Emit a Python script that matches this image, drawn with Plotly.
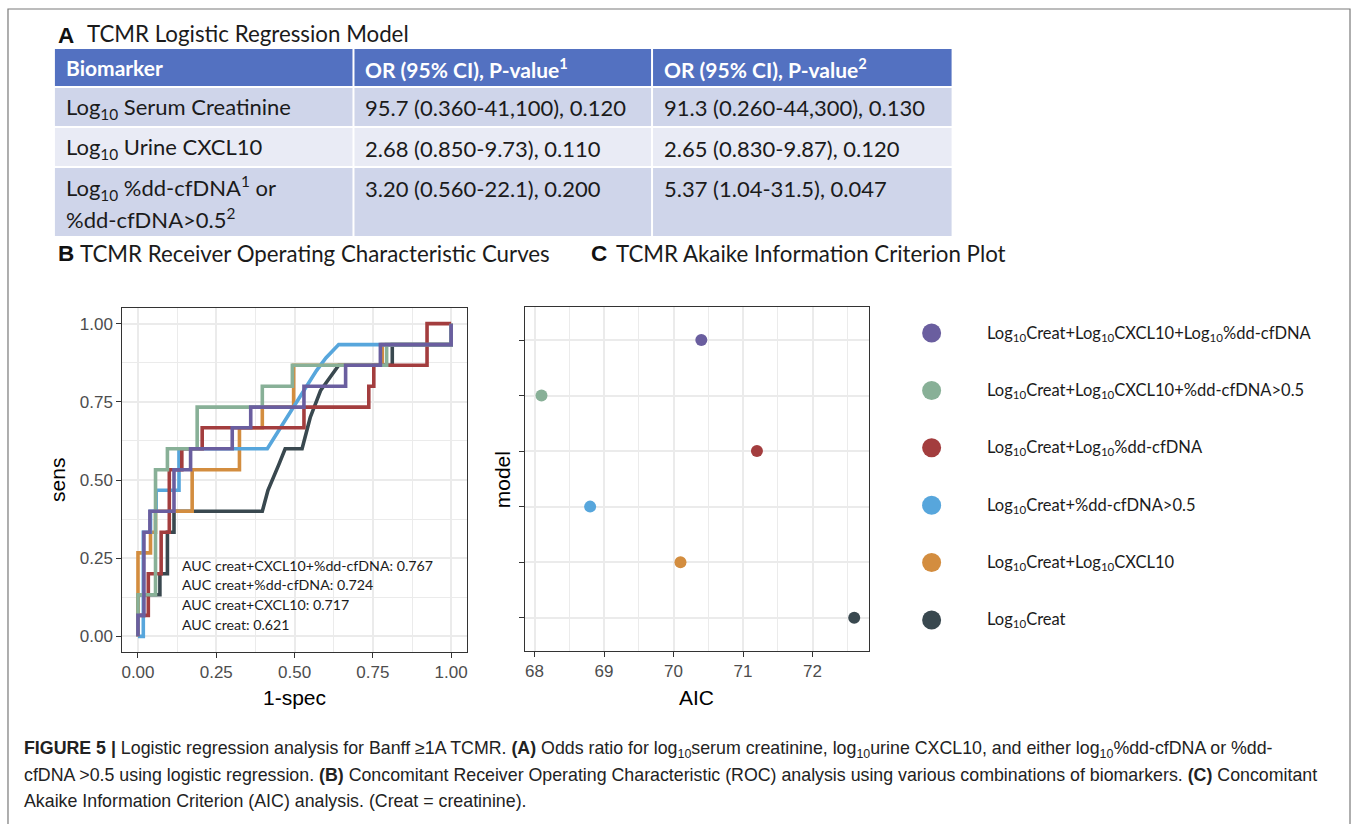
import plotly.graph_objects as go

W, H = 1357, 824

# ---------------- data ----------------
# Panel A: logistic regression table
table_header = ["Biomarker", "OR (95% CI), P-value<sup>1</sup>", "OR (95% CI), P-value<sup>2</sup>"]
biomarkers = [
    ["Log<sub>10</sub> Serum Creatinine"],
    ["Log<sub>10</sub> Urine CXCL10"],
    ["Log<sub>10</sub> %dd-cfDNA<sup>1</sup> or", "%dd-cfDNA>0.5<sup>2</sup>"],
]
or_model1 = ["95.7 (0.360-41,100), 0.120", "2.68 (0.850-9.73), 0.110", "3.20 (0.560-22.1), 0.200"]
or_model2 = ["91.3 (0.260-44,300), 0.130", "2.65 (0.830-9.87), 0.120", "5.37 (1.04-31.5), 0.047"]

# Models (top to bottom in the AIC plot / key)
model_names = [
    "Log10Creat+Log10CXCL10+Log10%dd-cfDNA",
    "Log10Creat+Log10CXCL10+%dd-cfDNA>0.5",
    "Log10Creat+Log10%dd-cfDNA",
    "Log10Creat+%dd-cfDNA>0.5",
    "Log10Creat+Log10CXCL10",
    "Log10Creat",
]
model_labels = [
    "Log<sub>10</sub>Creat+Log<sub>10</sub>CXCL10+Log<sub>10</sub>%dd-cfDNA",
    "Log<sub>10</sub>Creat+Log<sub>10</sub>CXCL10+%dd-cfDNA>0.5",
    "Log<sub>10</sub>Creat+Log<sub>10</sub>%dd-cfDNA",
    "Log<sub>10</sub>Creat+%dd-cfDNA>0.5",
    "Log<sub>10</sub>Creat+Log<sub>10</sub>CXCL10",
    "Log<sub>10</sub>Creat",
]
model_colors = ["#6A5E9F", "#88B097", "#A33D3E", "#57A6DC", "#D38D3F", "#39484F"]
aic_values = [70.4, 68.1, 71.2, 68.8, 70.1, 72.6]

# Panel B: ROC curves (1-spec, sens) per model
roc_fpr = {
    "Log10Creat": [0, 0, 0.07, 0.07, 0.094, 0.094, 0.115, 0.115, 0.397, 0.415, 0.45, 0.47,
                   0.524, 0.55, 0.583, 0.641, 0.812, 0.812, 1.0, 1.0],
    "Log10Creat+Log10CXCL10": [0, 0, 0.04, 0.04, 0.056, 0.056, 0.173, 0.173, 0.324, 0.324,
                               0.397, 0.397, 0.497, 0.497, 0.78, 0.78, 1.0, 1.0],
    "Log10Creat+%dd-cfDNA>0.5": [0, 0.017, 0.017, 0.04, 0.04, 0.058, 0.058, 0.131, 0.131,
                                 0.413, 0.455, 0.50, 0.54, 0.57, 0.60, 0.641, 1.0, 1.0],
    "Log10Creat+Log10%dd-cfDNA": [0, 0, 0.033, 0.033, 0.074, 0.074, 0.1, 0.1, 0.14, 0.14,
                                  0.205, 0.205, 0.530, 0.530, 0.737, 0.737, 0.753, 0.753,
                                  0.923, 0.923, 1.0],
    "Log10Creat+Log10CXCL10+%dd-cfDNA>0.5": [0, 0, 0.056, 0.056, 0.094, 0.094, 0.189, 0.189,
                                             0.397, 0.397, 0.493, 0.493, 0.794, 0.794, 1.0, 1.0],
    "Log10Creat+Log10CXCL10+Log10%dd-cfDNA": [0, 0, 0.019, 0.019, 0.038, 0.038, 0.115, 0.115,
                                              0.168, 0.168, 0.301, 0.301, 0.360, 0.360, 0.530,
                                              0.530, 0.663, 0.663, 0.774, 0.774, 1.0, 1.0],
}
roc_tpr = {
    "Log10Creat": [0, 0.133, 0.133, 0.2, 0.2, 0.333, 0.333, 0.4, 0.4, 0.467, 0.55, 0.6,
                   0.6, 0.7, 0.786, 0.867, 0.867, 0.933, 0.933, 1.0],
    "Log10Creat+Log10CXCL10": [0, 0.267, 0.267, 0.333, 0.333, 0.4, 0.4, 0.533, 0.533, 0.667,
                               0.667, 0.733, 0.733, 0.867, 0.867, 0.933, 0.933, 1.0],
    "Log10Creat+%dd-cfDNA>0.5": [0, 0, 0.333, 0.333, 0.4, 0.4, 0.467, 0.467, 0.6,
                                 0.6, 0.667, 0.74, 0.80, 0.85, 0.89, 0.933, 0.933, 1.0],
    "Log10Creat+Log10%dd-cfDNA": [0, 0.067, 0.067, 0.2, 0.2, 0.333, 0.333, 0.533, 0.533, 0.6,
                                  0.6, 0.667, 0.667, 0.733, 0.733, 0.8, 0.8, 0.867,
                                  0.867, 1.0, 1.0],
    "Log10Creat+Log10CXCL10+%dd-cfDNA>0.5": [0, 0.133, 0.133, 0.533, 0.533, 0.6, 0.6, 0.733,
                                             0.733, 0.8, 0.8, 0.867, 0.867, 0.933, 0.933, 1.0],
    "Log10Creat+Log10CXCL10+Log10%dd-cfDNA": [0, 0.067, 0.067, 0.333, 0.333, 0.4, 0.4, 0.533,
                                              0.533, 0.6, 0.6, 0.667, 0.667, 0.733, 0.733,
                                              0.8, 0.8, 0.867, 0.867, 0.933, 0.933, 1.0],
}
roc_draw_order = [
    "Log10Creat",
    "Log10Creat+Log10CXCL10",
    "Log10Creat+%dd-cfDNA>0.5",
    "Log10Creat+Log10%dd-cfDNA",
    "Log10Creat+Log10CXCL10+%dd-cfDNA>0.5",
    "Log10Creat+Log10CXCL10+Log10%dd-cfDNA",
]
auc_names = ["creat+CXCL10+%dd-cfDNA", "creat+%dd-cfDNA", "creat+CXCL10", "creat"]
auc_values = [0.767, 0.724, 0.717, 0.621]
auc_label_y = [0.228, 0.165, 0.101, 0.037]

roc_ticks = [0, 0.25, 0.5, 0.75, 1.0]
aic_ticks = [68, 69, 70, 71, 72]

caption_lines = [
    "<b>FIGURE 5 |</b> Logistic regression analysis for Banff \u22651A TCMR. <b>(A)</b> Odds ratio for "
    "log<sub>10</sub>serum creatinine, log<sub>10</sub>urine CXCL10, and either log<sub>10</sub>%dd-cfDNA or %dd-",
    "cfDNA >0.5 using logistic regression. <b>(B)</b> Concomitant Receiver Operating Characteristic (ROC) "
    "analysis using various combinations of biomarkers. <b>(C)</b> Concomitant",
    "Akaike Information Criterion (AIC) analysis. (Creat = creatinine).",
]

# ---------------- helpers ----------------
def px(x):
    return x / W


def py(y):
    return 1 - y / H


CAL = "Lato, 'Noto Sans', sans-serif"
ARIAL = "'Liberation Sans', Arial, sans-serif"

annotations = []
shapes = []


def text(x, y, s, size, family=CAL, color="#1b1b1b", xanchor="left", yanchor="middle",
         textangle=0):
    annotations.append(dict(x=px(x), y=py(y), xref="paper", yref="paper", text=s,
                            showarrow=False, xanchor=xanchor, yanchor=yanchor,
                            textangle=textangle,
                            font=dict(family=family, size=size, color=color)))


def rect(x0, y0, x1, y1, fill, line=None, lw=0):
    shapes.append(dict(type="rect", xref="paper", yref="paper",
                       x0=px(x0), x1=px(x1), y0=py(y1), y1=py(y0),
                       fillcolor=fill, line=dict(color=line or fill, width=lw),
                       layer="below"))


fig = go.Figure()

# ---------------- ROC panel ----------------
for name in roc_draw_order:
    i = model_names.index(name)
    fig.add_trace(go.Scatter(x=roc_fpr[name], y=roc_tpr[name], mode="lines",
                             line=dict(color=model_colors[i], width=3.6),
                             xaxis="x", yaxis="y", hoverinfo="skip"))

for nm, v, yy in zip(auc_names, auc_values, auc_label_y):
    annotations.append(dict(x=0.133, y=yy, xref="x", yref="y",
                            text=f"AUC {nm}: {v:.3f}", showarrow=False,
                            xanchor="left", yanchor="middle",
                            font=dict(family=CAL, size=14.2, color="#1b1b1b")))

# ---------------- AIC panel ----------------
fig.add_trace(go.Scatter(x=aic_values, y=model_names, mode="markers",
                         marker=dict(color=model_colors, size=12),
                         xaxis="x2", yaxis="y2", hoverinfo="skip"))

# ---------------- key ----------------
key_pos = list(range(len(model_names) - 1, -1, -1))
fig.add_trace(go.Scatter(x=[932] * len(model_names), y=key_pos, mode="markers",
                         marker=dict(color=model_colors, size=19),
                         xaxis="x3", yaxis="y3", hoverinfo="skip"))
for lab, yy in zip(model_labels, key_pos):
    annotations.append(dict(x=985, y=yy, xref="x3", yref="y3", text=lab,
                            showarrow=False, xanchor="left", yanchor="middle",
                            font=dict(family=CAL, size=16.5, color="#1b1b1b")))

# ---------------- table A ----------------
col_x = [(54, 352), (354, 651), (653, 952)]
row_y = [(49, 86), (88, 126), (128, 166), (168, 236)]
row_fill = ["#5371C1", "#CFD5EA", "#E9EBF5", "#CFD5EA"]
for r, (y0, y1) in enumerate(row_y):
    for (x0, x1) in col_x:
        rect(x0, y0, x1, y1, row_fill[r])

for (x0, _), h in zip(col_x, table_header):
    text(x0 + 9, 68, f"<b>{h}</b>", 21, color="white")

row_mid = [108, 148, 188]
for r, cells in enumerate(zip(biomarkers, or_model1, or_model2)):
    bm, o1, o2 = cells
    for k, line in enumerate(bm):
        text(col_x[0][0] + 9, row_mid[r] + 31 * k, line, 22)
    text(col_x[1][0] + 9, row_mid[r], o1, 22)
    text(col_x[2][0] + 9, row_mid[r], o2, 22)

# section headings
text(55, 35, "<b>A</b>", 22.5, family=ARIAL, color="#111")
text(84, 34, "TCMR Logistic Regression Model", 22.3)
text(55, 254, "<b>B</b>", 22.5, family=ARIAL, color="#111")
text(77, 253, "TCMR Receiver Operating Characteristic Curves", 22.3)
text(589, 254, "<b>C</b>", 22.5, family=ARIAL, color="#111")
text(614, 253, "TCMR Akaike Information Criterion Plot", 22.3)

# axis titles
text(294, 697, "1-spec", 21, family=ARIAL, color="#000", xanchor="center")
text(57, 480, "sens", 21, family=ARIAL, color="#000", xanchor="center", textangle=-90)
text(697, 697, "AIC", 21, family=ARIAL, color="#000", xanchor="center")
text(503, 480, "model", 21, family=ARIAL, color="#000", xanchor="center", textangle=-90)

# caption
for k, line in enumerate(caption_lines):
    text(21, 749 + 26 * k, line, 17.8, family=ARIAL, color="#222")

# outer frame
shapes.append(dict(type="rect", xref="paper", yref="paper", x0=px(7), x1=px(1351),
                   y0=py(840), y1=py(9), line=dict(color="#7a7a7a", width=1.2),
                   fillcolor="rgba(0,0,0,0)", layer="below"))

# ---------------- axes ----------------
grid = "#EBEBEB"
tickfont = dict(family=ARIAL, size=17, color="#4D4D4D")
common = dict(showline=True, mirror=True, linecolor="#333333", linewidth=1,
              ticks="outside", ticklen=5, tickcolor="#333333", tickwidth=1,
              gridcolor=grid, gridwidth=1.6, zeroline=False, tickfont=tickfont)

fig.update_layout(
    width=W, height=H, margin=dict(l=0, r=0, t=0, b=0),
    paper_bgcolor="white", plot_bgcolor="white", showlegend=False,
    xaxis=dict(domain=[px(121.5), px(466.5)], range=[-0.05, 1.05], anchor="y",
               tickvals=roc_ticks, tickformat=".2f",
               minor=dict(tick0=0, dtick=0.125, showgrid=True, gridcolor=grid, gridwidth=0.8,
                          ticks=""),
               **common),
    yaxis=dict(domain=[py(652), py(308)], range=[-0.05, 1.05], anchor="x",
               tickvals=roc_ticks, tickformat=".2f",
               minor=dict(tick0=0, dtick=0.125, showgrid=True, gridcolor=grid, gridwidth=0.8,
                          ticks=""),
               **common),
    xaxis2=dict(domain=[px(525), px(869.3)], range=[67.866, 72.813], anchor="y2",
                tickvals=aic_ticks,
                minor=dict(tick0=67.5, dtick=0.5, showgrid=True, gridcolor=grid, gridwidth=0.8,
                           ticks=""),
                **common),
    yaxis2=dict(domain=[py(651), py(306.7)], anchor="x2", type="category",
                categoryorder="array", categoryarray=model_names[::-1],
                range=[-0.6, 5.6], showticklabels=False, **common),
    xaxis3=dict(domain=[px(900), px(1350)], range=[900, 1350], anchor="y3", visible=False),
    yaxis3=dict(domain=[py(648), py(305)], range=[-0.488, 5.488], anchor="x3", visible=False),
    annotations=annotations,
    shapes=shapes,
)

fig.write_html("out.html")
